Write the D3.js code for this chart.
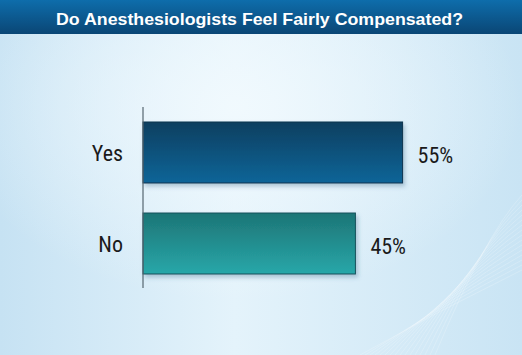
<!DOCTYPE html>
<html lang="en">
<head>
  <meta charset="utf-8">
  <title>Anesthesiologists Compensation</title>
  <script src="https://d3js.org/d3.v7.min.js"></script>
  <style type="text/css">
    body { margin: 0; padding: 0; }
    svg { display: block; }
  </style>
</head>
<body>
  <script type="text/javascript">

const categories = ["Yes", "No"];
const values = [55, 45];
const valueLabels = ["55%", "45%"];
const title = "Do Anesthesiologists Feel Fairly Compensated?";

const svgWidth = 522;
const svgHeight = 355;
const narrow = "'Liberation Sans Narrow', 'Roboto Condensed', 'Liberation Sans', Arial, sans-serif";

const svg = d3.select("body")
    .append("svg")
    .attr("width", svgWidth)
    .attr("height", svgHeight);

const defs = svg.append("defs");

// background gradients
const bg = defs.append("linearGradient").attr("id", "bg")
    .attr("x1", "0").attr("x2", "1").attr("y1", "0").attr("y2", "0");
bg.append("stop").attr("offset", "0%").attr("stop-color", "#c6e2f3");
bg.append("stop").attr("offset", "45%").attr("stop-color", "#e4f3fb");
bg.append("stop").attr("offset", "100%").attr("stop-color", "#c9e4f4");

const glow = defs.append("radialGradient").attr("id", "glow")
    .attr("cx", "0.45").attr("cy", "0.3").attr("r", "0.55");
glow.append("stop").attr("offset", "0%").attr("stop-color", "#f2fafe").attr("stop-opacity", 0.9);
glow.append("stop").attr("offset", "100%").attr("stop-color", "#f2fafe").attr("stop-opacity", 0);

const head = defs.append("linearGradient").attr("id", "head")
    .attr("x1", "0").attr("x2", "0").attr("y1", "0").attr("y2", "1");
head.append("stop").attr("offset", "0%").attr("stop-color", "#0e6dab");
head.append("stop").attr("offset", "100%").attr("stop-color", "#0a4675");

const barColors = [["#0a3f60", "#0b6598"], ["#1d7576", "#28a7a9"]];
barColors.forEach((c, i) => {
  const g = defs.append("linearGradient").attr("id", "bar" + i)
      .attr("x1", "0").attr("x2", "0").attr("y1", "0").attr("y2", "1");
  g.append("stop").attr("offset", "0%").attr("stop-color", c[0]);
  g.append("stop").attr("offset", "100%").attr("stop-color", c[1]);
});

const shadow = defs.append("filter").attr("id", "shadow")
    .attr("x", "-5%").attr("y", "-10%").attr("width", "115%").attr("height", "130%");
shadow.append("feDropShadow")
    .attr("dx", 2).attr("dy", 3).attr("stdDeviation", 2)
    .attr("flood-color", "#3a6a8a").attr("flood-opacity", 0.35);

svg.append("rect").attr("width", svgWidth).attr("height", svgHeight).attr("fill", "url(#bg)");
svg.append("rect").attr("width", svgWidth).attr("height", svgHeight).attr("fill", "url(#glow)");

// faint wave lines bottom right
const waves = svg.append("g").attr("fill", "none").attr("stroke", "#ffffff").attr("stroke-opacity", 0.3);
for (let k = 0; k < 16; k++) {
  waves.append("path")
      .attr("stroke-width", 0.7)
      .attr("d", `M ${360 + k * 5} 355 Q ${440 + k * 3} ${310 - k * 5} 522 ${270 - k * 5}`);
}

// title bar
svg.append("rect").attr("width", svgWidth).attr("height", 34).attr("fill", "url(#head)");
svg.append("text")
    .attr("x", 56)
    .attr("y", 24.5)
    .attr("text-anchor", "start")
    .attr("fill", "#ffffff")
    .attr("textLength", 407)
    .attr("lengthAdjust", "spacingAndGlyphs")
    .style("font-family", "'Liberation Sans', Arial, sans-serif")
    .style("font-weight", "bold")
    .style("font-size", "17px")
    .text(title);

const xScale = d3.scaleLinear()
    .domain([0, 100])
    .range([143, 615]);

const yScale = d3.scaleBand()
    .domain(categories)
    .range([107, 289])
    .paddingInner(0.33)
    .paddingOuter(0.165);

const data = categories.map((c, i) => ({ cat: c, value: values[i], label: valueLabels[i], i: i }));

svg.selectAll("rect.bar")
    .data(data)
    .enter()
    .append("rect")
    .attr("class", "bar")
    .attr("x", xScale(0))
    .attr("y", d => yScale(d.cat))
    .attr("width", d => xScale(d.value) - xScale(0))
    .attr("height", yScale.bandwidth())
    .attr("fill", d => `url(#bar${d.i})`)
    .attr("stroke", d => d.i === 0 ? "#08324d" : "#14505a")
    .attr("stroke-width", 1)
    .attr("filter", "url(#shadow)");

// axis line
svg.append("line")
    .attr("x1", xScale(0)).attr("x2", xScale(0))
    .attr("y1", 107).attr("y2", 288)
    .attr("stroke", "#556670")
    .attr("stroke-width", 1.2);

// category labels
svg.selectAll("text.cat")
    .data(data)
    .enter()
    .append("text")
    .attr("class", "cat")
    .attr("x", 123)
    .attr("y", d => yScale(d.cat) + yScale.bandwidth() / 2 + 8)
    .attr("text-anchor", "end")
    .attr("fill", "#1a1a1a")
    .style("font-family", narrow)
    .style("font-size", "22px")
    .text(d => d.cat);

// value labels
svg.selectAll("text.val")
    .data(data)
    .enter()
    .append("text")
    .attr("class", "val")
    .attr("x", d => xScale(d.value) + 15)
    .attr("y", d => yScale(d.cat) + yScale.bandwidth() / 2 + 10)
    .attr("text-anchor", "start")
    .attr("fill", "#1a1a1a")
    .style("font-family", narrow)
    .style("font-size", "22px")
    .text(d => d.label);

  </script>
</body>
</html>
